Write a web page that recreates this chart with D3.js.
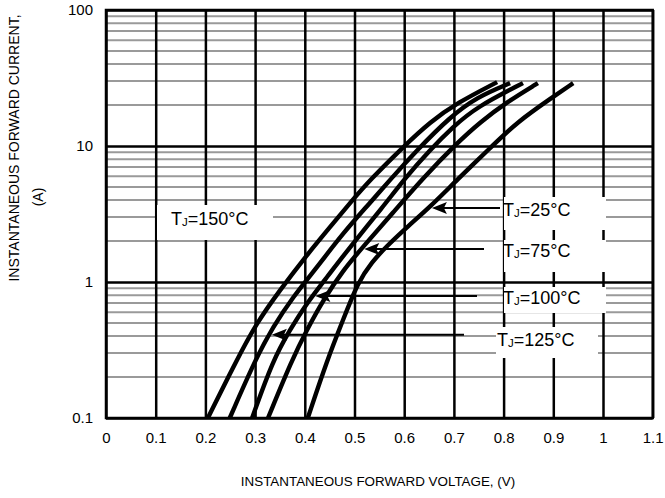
<!DOCTYPE html>
<html>
<head>
<meta charset="utf-8">
<script src="https://cdn.jsdelivr.net/npm/d3@7"></script>
<style>
  html, body { margin: 0; padding: 0; background: #fff; }
  svg { display: block; font-family: "Liberation Sans", Arial, sans-serif; }
</style>
</head>
<body>
<svg id="chart" width="665" height="498"></svg>
<script>
// ---------- data ----------
const xTicks = [0, 0.1, 0.2, 0.3, 0.4, 0.5, 0.6, 0.7, 0.8, 0.9, 1, 1.1];
const xTickLabels = ["0", "0.1", "0.2", "0.3", "0.4", "0.5", "0.6", "0.7", "0.8", "0.9", "1", "1.1"];
const yTicks = [0.1, 1, 10, 100];
const yTickLabels = ["0.1", "1", "10", "100"];

// forward voltage (V) / forward current (A) per junction temperature
const t150V = [0.205, 0.263, 0.303, 0.350, 0.396, 0.451, 0.491, 0.531, 0.598, 0.652, 0.706, 0.787];
const t150I = [0.1, 0.267, 0.50, 0.87, 1.45, 2.54, 3.81, 5.62, 9.84, 15.0, 20.7, 29.5];

const t125V = [0.249, 0.300, 0.336, 0.376, 0.425, 0.477, 0.531, 0.571, 0.626, 0.692, 0.746, 0.813];
const t125I = [0.1, 0.267, 0.467, 0.776, 1.29, 2.29, 3.81, 5.62, 9.35, 16.3, 22.9, 29.0];

const t100V = [0.294, 0.336, 0.370, 0.404, 0.445, 0.491, 0.557, 0.602, 0.652, 0.698, 0.746, 0.839];
const t100I = [0.1, 0.267, 0.444, 0.70, 1.09, 1.81, 3.56, 5.82, 9.35, 13.8, 19.4, 29.0];

const t75V = [0.326, 0.374, 0.404, 0.437, 0.477, 0.517, 0.577, 0.638, 0.706, 0.753, 0.807, 0.869];
const t75I = [0.1, 0.267, 0.444, 0.737, 1.22, 1.81, 3.22, 5.82, 10.5, 15.0, 21.1, 29.0];

const t25V = [0.406, 0.445, 0.477, 0.507, 0.535, 0.563, 0.608, 0.652, 0.706, 0.773, 0.827, 0.899, 0.940];
const t25I = [0.1, 0.267, 0.526, 1.00, 1.40, 1.81, 2.58, 3.56, 5.62, 9.67, 15.0, 22.9, 29.0];

const seriesNames = ["150", "125", "100", "75", "25"];
const seriesV = [t150V, t125V, t100V, t75V, t25V];
const seriesI = [t150I, t125I, t100I, t75I, t25I];

// annotation: current (A) at which each label's arrow meets its curve
const arrowSeries = ["25", "75", "100", "125"];
const arrowCurrent = [3.5, 1.75, 0.79, 0.41];

// ---------- layout ----------
const svg = d3.select("#chart");
const x = d3.scaleLinear().domain([0, 1.1]).range([106, 652.7]);
const y = d3.scaleLog().domain([0.1, 100]).range([418, 10]);

// minor horizontal grid
const minor = [];
[0.1, 1, 10].forEach(d => { for (let k = 2; k <= 9; k++) minor.push(d * k); });
svg.append("g").selectAll("line").data(minor).join("line")
  .attr("x1", x(0)).attr("x2", x(1.1))
  .attr("y1", d => y(d)).attr("y2", d => y(d))
  .attr("stroke", "#9a9a9a").attr("stroke-width", 2);

// major grid via axes
const gx = svg.append("g").attr("transform", `translate(0,${y(0.1)})`)
  .call(d3.axisBottom(x).tickValues(xTicks).tickSize(-(y(0.1) - y(100))).tickFormat((d, i) => xTickLabels[i]).tickPadding(14));
gx.select(".domain").remove();
gx.selectAll(".tick line").attr("stroke", "#000").attr("stroke-width", 2.5);
gx.selectAll(".tick text").attr("font-size", 15).attr("fill", "#000")
  .attr("font-family", "Liberation Sans, Arial, sans-serif");

const gy = svg.append("g").attr("transform", `translate(${x(0)},0)`)
  .call(d3.axisLeft(y).tickValues(yTicks).tickSize(-(x(1.1) - x(0))).tickFormat((d, i) => yTickLabels[i]).tickPadding(13));
gy.select(".domain").remove();
gy.selectAll(".tick line").attr("stroke", "#000").attr("stroke-width", 2.5);
gy.selectAll(".tick text").attr("font-size", 15).attr("fill", "#000")
  .attr("font-family", "Liberation Sans, Arial, sans-serif");

// frame
svg.append("rect").attr("x", x(0)).attr("y", y(100))
  .attr("width", x(1.1) - x(0)).attr("height", y(0.1) - y(100))
  .attr("fill", "none").attr("stroke", "#000").attr("stroke-width", 2.5);

// curves
const line = d3.line().x(d => x(d[0])).y(d => y(d[1])).curve(d3.curveBasis);
seriesV.forEach((vs, s) => {
  const pts = vs.map((v, i) => [v, seriesI[s][i]]);
  svg.append("path").datum(pts).attr("d", line)
    .attr("fill", "none").attr("stroke", "#000").attr("stroke-width", 4.4)
    .attr("stroke-linecap", "butt").attr("stroke-linejoin", "round");
});

// helper: voltage on a curve at a given current (log interpolation)
function vAt(name, cur) {
  const s = seriesNames.indexOf(name);
  const vs = seriesV[s], is = seriesI[s];
  const lc = Math.log10(cur);
  for (let i = 0; i < is.length - 1; i++) {
    const a = Math.log10(is[i]), b = Math.log10(is[i + 1]);
    if (lc >= a && lc <= b) return vs[i] + (vs[i + 1] - vs[i]) * (lc - a) / (b - a);
  }
  return vs[vs.length - 1];
}

// label boxes
const boxes = [
  { name: "150", x0: 157, x1: 273, y0: 205, y1: 240, tx: 171, ty: 225, lineEnd: null },
  { name: "25", x0: 504, x1: 606, y0: 197, y1: 230, tx: 503, ty: 216, lineEnd: 500 },
  { name: "75", x0: 504, x1: 606, y0: 240, y1: 272, tx: 503, ty: 257, lineEnd: 484 },
  { name: "100", x0: 504, x1: 606, y0: 287, y1: 313, tx: 503, ty: 304, lineEnd: 477 },
  { name: "125", x0: 496, x1: 598, y0: 327, y1: 358, tx: 497, ty: 346, lineEnd: 464 }
];
boxes.forEach(b => {
  svg.append("rect").attr("x", b.x0).attr("y", b.y0)
    .attr("width", b.x1 - b.x0).attr("height", b.y1 - b.y0).attr("fill", "#fff");
});

// arrows
arrowSeries.forEach((name, i) => {
  const b = boxes.find(bb => bb.name === name);
  const cur = arrowCurrent[i];
  const tipX = x(vAt(name, cur)) + 3;
  const yy = y(cur);
  svg.append("line").attr("x1", tipX + 8).attr("x2", b.lineEnd)
    .attr("y1", yy).attr("y2", yy).attr("stroke", "#000").attr("stroke-width", 2);
  svg.append("path")
    .attr("d", `M${tipX},${yy} L${tipX + 15},${yy - 6} L${tipX + 12},${yy} L${tipX + 15},${yy + 6} Z`)
    .attr("fill", "#000");
});

// label text
boxes.forEach(b => {
  const t = svg.append("text").attr("x", b.tx).attr("y", b.ty)
    .attr("font-size", 18).attr("fill", "#000");
  t.append("tspan").text("T");
  t.append("tspan").text("J").attr("font-size", 11.5).attr("dy", 1);
  t.append("tspan").text("=" + b.name + "°C").attr("dy", -1);
});

// axis titles
svg.append("text").attr("x", 378).attr("y", 486).attr("text-anchor", "middle")
  .attr("font-size", 13.4).attr("fill", "#000")
  .text("INSTANTANEOUS FORWARD VOLTAGE,  (V)");

svg.append("text").attr("transform", "translate(19,148) rotate(-90)")
  .attr("text-anchor", "middle").attr("font-size", 14).attr("fill", "#000")
  .text("INSTANTANEOUS FORWARD CURRENT,");
svg.append("text").attr("transform", "translate(43,197) rotate(-90)")
  .attr("text-anchor", "middle").attr("font-size", 14).attr("fill", "#000")
  .text("(A)");
</script>
</body>
</html>
